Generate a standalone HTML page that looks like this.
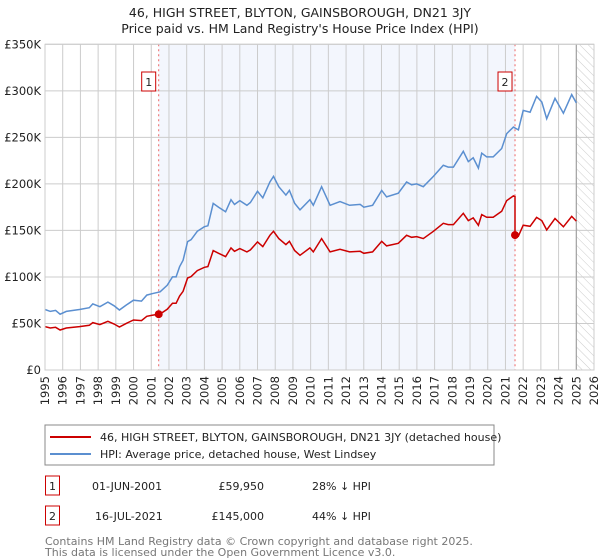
<!DOCTYPE html>
<html><head><meta charset="utf-8"><style>
body{margin:0;background:#fff;font-family:"DejaVu Sans","Liberation Sans",sans-serif;}
#wrap{position:relative;width:600px;height:560px;overflow:hidden;}
text{font-family:"DejaVu Sans","Liberation Sans",sans-serif;}
</style></head><body><div id="wrap">
<svg id="chart" width="600" height="560" xmlns="http://www.w3.org/2000/svg">
<defs><pattern id="hatch" width="6" height="6" patternUnits="userSpaceOnUse" patternTransform="rotate(-45)"><line x1="0" y1="0" x2="0" y2="6" stroke="#ccc" stroke-width="1"/></pattern></defs>
<text x="300" y="17" text-anchor="middle" font-size="12.5" fill="#222">46, HIGH STREET, BLYTON, GAINSBOROUGH, DN21 3JY</text>
<text x="300" y="33" text-anchor="middle" font-size="12.5" fill="#222">Price paid vs. HM Land Registry's House Price Index (HPI)</text>
<g id="plot"></g>
<rect x="45" y="425" width="449" height="40" fill="#fff" stroke="#888"/>
<line x1="50" y1="437" x2="91" y2="437" stroke="#cc0000" stroke-width="2"/>
<text x="100" y="441" font-size="11" fill="#222">46, HIGH STREET, BLYTON, GAINSBOROUGH, DN21 3JY (detached house)</text>
<line x1="50" y1="454" x2="91" y2="454" stroke="#5b8fd0" stroke-width="2"/>
<text x="100" y="458" font-size="11" fill="#222">HPI: Average price, detached house, West Lindsey</text>
<rect x="45.5" y="476" width="14" height="19" fill="#fff" stroke="#cc0000"/>
<text x="52.5" y="490" text-anchor="middle" font-size="11" fill="#222">1</text>
<text x="92" y="490" font-size="11" fill="#222">01-JUN-2001</text>
<text x="264" y="490" text-anchor="end" font-size="11" fill="#222">£59,950</text>
<text x="312" y="490" font-size="11" fill="#222">28% ↓ HPI</text>
<rect x="45.5" y="506" width="14" height="19" fill="#fff" stroke="#cc0000"/>
<text x="52.5" y="520" text-anchor="middle" font-size="11" fill="#222">2</text>
<text x="95" y="520" font-size="11" fill="#222">16-JUL-2021</text>
<text x="264" y="520" text-anchor="end" font-size="11" fill="#222">£145,000</text>
<text x="312" y="520" font-size="11" fill="#222">44% ↓ HPI</text>
<text x="45" y="545" font-size="11" fill="#777">Contains HM Land Registry data © Crown copyright and database right 2025.</text>
<text x="45" y="556" font-size="11" fill="#777">This data is licensed under the Open Government Licence v3.0.</text>
</svg></div>
<script>
const hpiYears=[1995,1995.3,1995.6,1995.85,1996.2,1996.95,1997.5,1997.7,1998.1,1998.55,1998.9,1999.2,1999.6,2000.0,2000.45,2000.75,2001.05,2001.5,2001.9,2002.2,2002.4,2002.6,2002.8,2003.05,2003.25,2003.6,2004.0,2004.2,2004.5,2004.8,2005.2,2005.5,2005.7,2006.0,2006.4,2006.6,2007.0,2007.3,2007.7,2007.9,2008.2,2008.6,2008.8,2009.1,2009.4,2009.96,2010.15,2010.62,2011.1,2011.66,2012.2,2012.8,2013.0,2013.5,2014.01,2014.29,2014.95,2015.42,2015.7,2015.99,2016.36,2016.93,2017.49,2017.77,2018.06,2018.62,2018.9,2019.18,2019.47,2019.66,2019.94,2020.31,2020.79,2021.07,2021.45,2021.73,2022.0,2022.39,2022.76,2023.05,2023.33,2023.8,2024.27,2024.74,2025.0];
const hpiValues=[65,63,64,60,63,65,67,71,68,73,69,64.5,70,75,74,80.5,82,84,91,100,100,111,118,138,140,149,154,155,179,175,170,183,178,182,177,180,192,185,202,208,197,188,193,179,172,183,177,197,177,181,177,178,175,177,193,186,190,202,199,200,197,208,220,218,218,235,224,228,217,233,229,229,238,254,261,258,279,277,294,288,270,292,276,296,287];
const saleDates=[2001.42,2021.54];
const salePrices=[59950,145000];
const saleLabels=["1","2"];
const yTicks=[0,50000,100000,150000,200000,250000,300000,350000];
const yTickLabels=["£0","£50K","£100K","£150K","£200K","£250K","£300K","£350K"];
const xTickYears=[1995,1996,1997,1998,1999,2000,2001,2002,2003,2004,2005,2006,2007,2008,2009,2010,2011,2012,2013,2014,2015,2016,2017,2018,2019,2020,2021,2022,2023,2024,2025,2026];

const NS="http://www.w3.org/2000/svg";
const X0=45,X1=594,Y0=370,Y1=44.3,XMIN=1995,XMAX=2026,YMAX=350000,DATA_END=2025.0;
const xs=v=>X0+(v-XMIN)/(XMAX-XMIN)*(X1-X0);
const ys=v=>Y0-v/YMAX*(Y0-Y1);
const g=document.getElementById('plot');
function mk(t,a){const e=document.createElementNS(NS,t);for(const k in a)e.setAttribute(k,a[k]);g.appendChild(e);return e;}
function hpiAt(t){for(let i=0;i<hpiYears.length-1;i++){if(t>=hpiYears[i]&&t<=hpiYears[i+1]){const f=(t-hpiYears[i])/(hpiYears[i+1]-hpiYears[i]);return (hpiValues[i]+f*(hpiValues[i+1]-hpiValues[i]))*1000;}}return hpiValues[hpiValues.length-1]*1000;}

let e=mk('rect',{x:xs(saleDates[0]),y:Y1,width:xs(saleDates[1])-xs(saleDates[0]),height:Y0-Y1,fill:'#f3f6fd'});


e=mk('rect',{x:xs(DATA_END),y:Y1,width:X1-xs(DATA_END),height:Y0-Y1,fill:'url(#hatch)'});


yTicks.forEach((v,i)=>{
  const l=mk('line',{x1:X0,x2:X1,y1:ys(v),y2:ys(v),stroke:'#ccc','stroke-width':1});
  
  
  const t=mk('text',{x:X0-4,y:ys(v)+4,'text-anchor':'end','font-size':11.5,fill:'#222'});
  t.textContent=yTickLabels[i];
  
  
});
xTickYears.forEach(yr=>{
  const l=mk('line',{x1:xs(yr),x2:xs(yr),y1:Y1,y2:Y0,stroke:'#ccc','stroke-width':1});
  
  
  const t=mk('text',{x:0,y:0,'text-anchor':'end','font-size':11.5,fill:'#222',transform:`translate(${xs(yr)+4},376) rotate(-90)`});
  t.textContent=String(yr);
  
  
});
e=mk('line',{x1:xs(DATA_END),x2:xs(DATA_END),y1:Y1,y2:Y0,stroke:'#999','stroke-width':1});


saleDates.forEach((d,i)=>{
  const l=mk('line',{x1:xs(d),x2:xs(d),y1:Y1,y2:Y0,stroke:'#e66','stroke-width':1,'stroke-dasharray':'2,3'});
  
  
});
let pts=hpiYears.map((y,i)=>xs(y).toFixed(1)+','+ys(hpiValues[i]*1000).toFixed(1)).join(' ');
e=mk('polyline',{points:pts,fill:'none',stroke:'#5b8fd0','stroke-width':1.5});


const r1=salePrices[0]/hpiAt(saleDates[0]),r2=salePrices[1]/hpiAt(saleDates[1]);
let rp=[];
hpiYears.forEach((y,i)=>{ if(y<saleDates[1]) rp.push([y,hpiValues[i]*1000*r1]); });
rp.push([saleDates[1],hpiAt(saleDates[1])*r1]);
rp.push([saleDates[1],salePrices[1]]);
hpiYears.forEach((y,i)=>{ if(y>saleDates[1]) rp.push([y,hpiValues[i]*1000*r2]); });
e=mk('polyline',{points:rp.map(p=>xs(p[0]).toFixed(1)+','+ys(p[1]).toFixed(1)).join(' '),fill:'none',stroke:'#cc0000','stroke-width':1.5});


saleDates.forEach((d,i)=>{
  const c=mk('circle',{cx:xs(d),cy:ys(salePrices[i]),r:4,fill:'#cc0000'});
  
  
  const b=mk('rect',{x:xs(d)-17,y:72,width:14,height:19,fill:'#fff',stroke:'#cc0000'});
  
  
  const t=mk('text',{x:xs(d)-10,y:86,'text-anchor':'middle','font-size':11,fill:'#222'});
  t.textContent=saleLabels[i];
  
  
});
e=mk('rect',{x:X0,y:Y1,width:X1-X0,height:Y0-Y1,fill:'none',stroke:'#ccc'});


</script></body></html>
